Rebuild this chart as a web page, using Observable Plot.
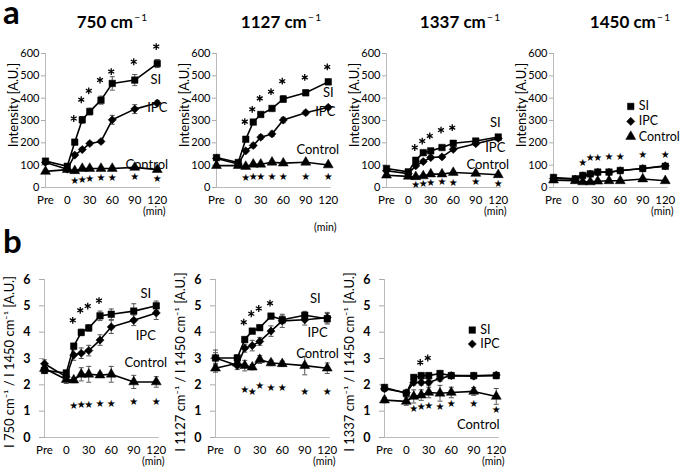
<!DOCTYPE html>
<html><head><meta charset="utf-8">
<script src="https://cdn.jsdelivr.net/npm/d3@7"></script>
<script src="https://cdn.jsdelivr.net/npm/@observablehq/plot@0.6"></script>
<style>
body{margin:0;background:#fff;}
#root{position:relative;width:685px;height:472px;overflow:hidden;font-family:Lato,"Open Sans",sans-serif;color:#000;}
.panel{position:absolute;}
.title{position:absolute;font-weight:bold;font-size:17px;transform:translateX(-50%);white-space:nowrap;line-height:1;}
.title sup{font-size:0.6em;font-weight:normal;vertical-align:0.7em;}
.letter{position:absolute;font-weight:bold;font-size:33px;line-height:0.6;}
.ytitle{position:absolute;white-space:nowrap;font-size:13px;line-height:1;transform:translate(-50%,-50%) rotate(-90deg);}
</style></head><body><div id="root"></div>
<script>
// ---------- shared categories / ticks ----------
const PRE = -29;                       // numeric slot of the "Pre" time point
const times = [PRE, 0, 10, 20, 30, 45, 60, 90, 120];
const seriesNames = ["SI", "IPC", "Control"];
const sigTimes = [10, 20, 30, 45, 60, 90, 120];
const xTickValues = [PRE, 0, 30, 60, 90, 120];
const xTickLabels = ["Pre", "0", "30", "60", "90", "120"];
const yTicksA = [0, 100, 200, 300, 400, 500, 600];
const yTicksB = [0, 1, 2, 3, 4, 5, 6];

// ---------- panel a : 750 cm-1 ----------
const a750_SI = [118, 95, 203, 303, 340, 391, 466, 481, 555];
const a750_SI_err = [10, 10, 10, 15, 15, 18, 30, 25, 18];
const a750_IPC = [112, 82, 145, 170, 197, 206, 303, 351, 378];
const a750_IPC_err = [8, 8, 8, 8, 8, 8, 20, 20, 12];
const a750_Ctrl = [72, 80, 75, 85, 85, 85, 85, 90, 80];
const a750_Ctrl_err = [5, 5, 5, 5, 5, 5, 5, 5, 5];
const a750_ast = [309, 393, 433, 481, 519, 563, 631];
const a750_star = [28, 36, 39, 43, 43, 49, 39];

// ---------- panel a : 1127 cm-1 ----------
const a1127_SI = [134, 112, 216, 293, 327, 354, 396, 424, 473];
const a1127_SI_err = [8, 8, 10, 10, 10, 10, 15, 12, 12];
const a1127_IPC = [130, 105, 164, 188, 225, 240, 302, 335, 359];
const a1127_IPC_err = [8, 8, 8, 10, 10, 12, 12, 10, 8];
const a1127_Ctrl = [98, 98, 94, 104, 104, 113, 109, 113, 101];
const a1127_Ctrl_err = [5, 5, 5, 5, 5, 5, 5, 5, 5];
const a1127_ast = [295, 350, 399, 429, 476, 493, 540];
const a1127_star = [45, 49, 49, 50, 49, 50, 50];

// ---------- panel a : 1337 cm-1 ----------
const a1337_SI = [85, 70, 122, 156, 164, 179, 198, 208, 226];
const a1337_SI_err = [8, 8, 8, 8, 8, 8, 8, 8, 8];
const a1337_IPC = [75, 62, 97, 116, 134, 137, 171, 196, 220];
const a1337_IPC_err = [8, 8, 8, 8, 8, 8, 8, 8, 8];
const a1337_Ctrl = [55, 50, 48, 52, 60, 60, 67, 63, 57];
const a1337_Ctrl_err = [5, 5, 5, 5, 5, 5, 5, 5, 5];
const a1337_astTimes = [10, 20, 30, 45, 60];
const a1337_ast = [179, 208, 231, 257, 268];
const a1337_star = [10, 18, 22, 25, 22, 25, 18];

// ---------- panel a : 1450 cm-1 ----------
const a1450_SI = [45, 39, 54, 61, 69, 69, 76, 85, 95];
const a1450_SI_err = [5, 5, 5, 5, 5, 5, 5, 5, 5];
const a1450_IPC = [40, 37, 52, 60, 68, 68, 75, 85, 97];
const a1450_IPC_err = [5, 5, 5, 5, 5, 5, 5, 5, 5];
const a1450_Ctrl = [33, 30, 25, 25, 28, 30, 30, 38, 30];
const a1450_Ctrl_err = [4, 4, 4, 4, 4, 4, 4, 4, 4];
const a1450_star = [109, 131, 131, 138, 138, 146, 146];

// ---------- panel b : 750/1450 ----------
const b750_SI = [2.55, 2.45, 3.47, 3.99, 4.16, 4.62, 4.68, 4.8, 5.0];
const b750_SI_err = [0.12, 0.1, 0.1, 0.12, 0.12, 0.18, 0.2, 0.28, 0.18];
const b750_IPC = [2.8, 2.3, 3.13, 3.2, 3.3, 3.7, 4.2, 4.45, 4.73];
const b750_IPC_err = [0.15, 0.15, 0.2, 0.2, 0.2, 0.2, 0.25, 0.2, 0.25];
const b750_Ctrl = [2.62, 2.2, 2.18, 2.4, 2.4, 2.37, 2.4, 2.11, 2.11];
const b750_Ctrl_err = [0.15, 0.15, 0.1, 0.25, 0.3, 0.08, 0.3, 0.25, 0.2];
const b750_astTimes = [10, 20, 30, 45];
const b750_ast = [4.45, 4.83, 4.99, 5.2];
const b750_star = [1.2, 1.25, 1.25, 1.27, 1.29, 1.35, 1.35];

// ---------- panel b : 1127/1450 ----------
const b1127_SI = [3.02, 3.02, 3.72, 4.04, 4.17, 4.61, 4.47, 4.64, 4.51];
const b1127_SI_err = [0.3, 0.12, 0.1, 0.1, 0.1, 0.1, 0.15, 0.15, 0.2];
const b1127_IPC = [3.02, 2.73, 3.39, 3.49, 3.65, 4.04, 4.43, 4.47, 4.55];
const b1127_IPC_err = [0.2, 0.15, 0.15, 0.2, 0.15, 0.2, 0.25, 0.2, 0.2];
const b1127_Ctrl = [2.63, 2.82, 2.73, 2.67, 2.96, 2.83, 2.8, 2.73, 2.63];
const b1127_Ctrl_err = [0.15, 0.15, 0.2, 0.1, 0.15, 0.1, 0.1, 0.35, 0.2];
const b1127_astTimes = [10, 20, 30, 45];
const b1127_ast = [4.38, 4.7, 4.9, 5.1];
const b1127_star = [1.8, 1.74, 1.97, 1.9, 1.87, 1.72, 1.72];

// ---------- panel b : 1337/1450 ----------
const b1337_SI = [1.9, 1.68, 2.28, 2.35, 2.35, 2.43, 2.35, 2.35, 2.35];
const b1337_SI_err = [0.1, 0.1, 0.1, 0.1, 0.1, 0.1, 0.1, 0.1, 0.1];
const b1337_IPC = [1.85, 1.7, 2.09, 2.09, 2.09, 2.24, 2.35, 2.33, 2.37];
const b1337_IPC_err = [0.1, 0.1, 0.1, 0.1, 0.1, 0.1, 0.1, 0.1, 0.1];
const b1337_Ctrl = [1.42, 1.37, 1.56, 1.61, 1.71, 1.68, 1.71, 1.75, 1.56];
const b1337_Ctrl_err = [0.1, 0.15, 0.25, 0.2, 0.2, 0.3, 0.2, 0.15, 0.3];
const b1337_astTimes = [20, 30];
const b1337_ast = [2.85, 3.02];
const b1337_star = [1.08, 1.15, 1.21, 1.18, 1.29, 1.27, 1.05];

// ---------- in-plot series labels (data coordinates) ----------
const labText = ["SI", "IPC", "Control"];
const a750_labT = [118, 120, 106], a750_labV = [484, 358, 103];
const a1127_labT = [120, 116, 106], a1127_labV = [425, 340, 170];
const a1337_labT = [116, 116, 106], a1337_labV = [291, 179, 103];
const b750_labT = [106, 106, 106], b750_labV = [5.47, 3.87, 2.85];
const b1127_labT = [104, 107, 107], b1127_labV = [5.28, 3.99, 3.19];
const b1337_ctrlLabT = [96], b1337_ctrlLabV = [0.5];
const a1450_legT = 74, a1450_legV = [363, 296, 228];
const b1337_legT = 88, b1337_legV = [4.08, 3.55];

const titles = ["750", "1127", "1337", "1450"];
const yTitleA = "Intensity [A.U.]";
const yTitlesB = ["I 750 cm\u207B\u00B9 / I 1450 cm\u207B\u00B9  [A.U.]",
                  "I 1127 cm\u207B\u00B9 / I 1450 cm\u207B\u00B9  [A.U.]",
                  "I 1337 cm\u207B\u00B9 / I 1450 cm\u207B\u00B9  [A.U.]"];

// ---------- drawing ----------
const root = document.getElementById("root");
const symbols = ["square", "diamond2", "triangle"];
const cap = {draw(ctx) { ctx.moveTo(-2.5, 0); ctx.lineTo(2.5, 0); }};
const K = 0.75; // px per minute

function build(vals, errs) {
  const rows = [];
  vals.forEach((v, i) => times.forEach((t, j) => rows.push({series: seriesNames[i], t, v: v[j], e: errs[i][j]})));
  return rows;
}

function panel(p) {
  const ML = 50, MT = 30, MR = 25, MB = 50;
  const fw = (124 - PRE) * K;
  const fh = p.y0 - p.yTop;
  const rows = build(p.vals, p.errs);
  const isB = p.kind === "b";
  const marks = [
    Plot.ruleY([0], {stroke: "#bbb"}),
    Plot.ruleX([PRE], {stroke: "#bbb"}),
    Plot.axisY({ticks: isB ? yTicksB : yTicksA, tickFormat: d => String(d), tickSize: isB ? 5 : 4, tickPadding: isB ? 9 : 2,
      stroke: "#aaa", fill: "black", fontSize: isB ? 12.5 : 11, label: null}),
    Plot.axisX({ticks: xTickValues, tickFormat: d => xTickLabels[xTickValues.indexOf(d)], tickSize: 0,
      tickPadding: 8, fill: "black", fontSize: 11.5, label: null}),
    Plot.text(["(min)"], {x: [116], frameAnchor: "bottom", dy: p.minDy, fontSize: 10.5}),
    Plot.ruleX(rows, {x: "t", y1: d => d.v - d.e, y2: d => d.v + d.e, stroke: "#555", strokeWidth: 1}),
    Plot.dot(rows, {x: "t", y: d => d.v + d.e, symbol: cap, stroke: "#555", strokeWidth: 1}),
    Plot.dot(rows, {x: "t", y: d => d.v - d.e, symbol: cap, stroke: "#555", strokeWidth: 1}),
    Plot.line(rows, {x: "t", y: "v", z: "series", stroke: "black", strokeWidth: 1.6}),
    Plot.dot(rows, {x: "t", y: "v", symbol: "series", r: 3.7, fill: "black", stroke: "black", strokeWidth: 0.5})
  ];
  if (p.ast) marks.push(Plot.dot(p.ast, {x: (d, i) => p.astTimes[i], y: d => d, symbol: "asterisk", r: 3.2, stroke: "black", strokeWidth: 1.3, dx: -1}));
  if (p.star) marks.push(Plot.text(p.star, {x: (d, i) => sigTimes[i], y: d => d, text: () => "\u2605", fontSize: 10, fontFamily: "DejaVu Sans"}));
  if (p.labT) marks.push(Plot.text(p.labT, {x: d => d, y: (d, i) => p.labV[i], text: (d, i) => p.labText[i], fontSize: 13}));
  if (p.legV) {
    marks.push(Plot.dot(p.legV, {x: () => p.legT, y: d => d, symbol: (d, i) => seriesNames[i], r: 3.7, fill: "black", stroke: "black", strokeWidth: 0.5}));
    marks.push(Plot.text(p.legV, {x: () => p.legT, y: d => d, text: (d, i) => seriesNames[i], textAnchor: "start", dx: 8, fontSize: 12.5}));
  }
  const chart = Plot.plot({
    width: ML + fw + MR, height: MT + fh + MB,
    marginLeft: ML, marginTop: MT, marginRight: MR, marginBottom: MB,
    style: {background: "transparent", overflow: "visible", fontFamily: "Lato, 'Open Sans', sans-serif", color: "black"},
    x: {domain: [PRE, 124]},
    y: {domain: isB ? [0, 6] : [0, 600]},
    symbol: {domain: seriesNames, range: symbols},
    marks
  });
  if (isB) {
    chart.querySelectorAll('g[aria-label*="y-axis"] text').forEach(t => {
      t.setAttribute("font-weight", "bold");
      t.style.fontWeight = "bold";
    });
  }
  chart.classList.add("panel");
  chart.style.position = "absolute";
  chart.style.left = (p.ax - ML) + "px";
  chart.style.top = (p.yTop - MT) + "px";
  root.appendChild(chart);

  const yt = document.createElement("div");
  yt.className = "ytitle";
  yt.textContent = p.ytitle;
  yt.style.left = (p.ax + p.ytDx) + "px";
  yt.style.top = p.ytY + "px";
  root.appendChild(yt);
}

const A = {kind: "a", yTop: 53, y0: 187, ytDx: -32, ytY: 105, ytitle: yTitleA, minDy: 27};
const B = {kind: "b", yTop: 279, y0: 437, ytDx: -35, ytY: 362, minDy: 27};

panel({...A, ax: 45, vals: [a750_SI, a750_IPC, a750_Ctrl], errs: [a750_SI_err, a750_IPC_err, a750_Ctrl_err],
  ast: a750_ast, astTimes: sigTimes, star: a750_star, labT: a750_labT, labV: a750_labV, labText});
panel({...A, ax: 216, minDy: 43, vals: [a1127_SI, a1127_IPC, a1127_Ctrl], errs: [a1127_SI_err, a1127_IPC_err, a1127_Ctrl_err],
  ast: a1127_ast, astTimes: sigTimes, star: a1127_star, labT: a1127_labT, labV: a1127_labV, labText});
panel({...A, ax: 386, vals: [a1337_SI, a1337_IPC, a1337_Ctrl], errs: [a1337_SI_err, a1337_IPC_err, a1337_Ctrl_err],
  ast: a1337_ast, astTimes: a1337_astTimes, star: a1337_star, labT: a1337_labT, labV: a1337_labV, labText});
panel({...A, ax: 553, vals: [a1450_SI, a1450_IPC, a1450_Ctrl], errs: [a1450_SI_err, a1450_IPC_err, a1450_Ctrl_err],
  star: a1450_star, legT: a1450_legT, legV: a1450_legV});
panel({...B, ax: 44, ytitle: yTitlesB[0], vals: [b750_SI, b750_IPC, b750_Ctrl], errs: [b750_SI_err, b750_IPC_err, b750_Ctrl_err],
  ast: b750_ast, astTimes: b750_astTimes, star: b750_star, labT: b750_labT, labV: b750_labV, labText});
panel({...B, ax: 215, ytitle: yTitlesB[1], vals: [b1127_SI, b1127_IPC, b1127_Ctrl], errs: [b1127_SI_err, b1127_IPC_err, b1127_Ctrl_err],
  ast: b1127_ast, astTimes: b1127_astTimes, star: b1127_star, labT: b1127_labT, labV: b1127_labV, labText});
panel({...B, ax: 384, ytitle: yTitlesB[2], vals: [b1337_SI, b1337_IPC, b1337_Ctrl], errs: [b1337_SI_err, b1337_IPC_err, b1337_Ctrl_err],
  ast: b1337_ast, astTimes: b1337_astTimes, star: b1337_star, labT: b1337_ctrlLabT, labV: b1337_ctrlLabV, labText: ["Control"],
  legT: b1337_legT, legV: b1337_legV});

// titles and panel letters
const titleX = [112, 281, 460, 630];
titles.forEach((t, i) => {
  const d = document.createElement("div");
  d.className = "title";
  d.innerHTML = t + " cm<sup>\u2009\u2212\u20091</sup>";
  d.style.left = titleX[i] + "px";
  d.style.top = "12px";
  root.appendChild(d);
});
[["a", 3, 2], ["b", 3, 231]].forEach(([l, x, y]) => {
  const d = document.createElement("div");
  d.className = "letter"; d.textContent = l;
  d.style.left = x + "px"; d.style.top = y + "px";
  root.appendChild(d);
});
</script></body></html>
